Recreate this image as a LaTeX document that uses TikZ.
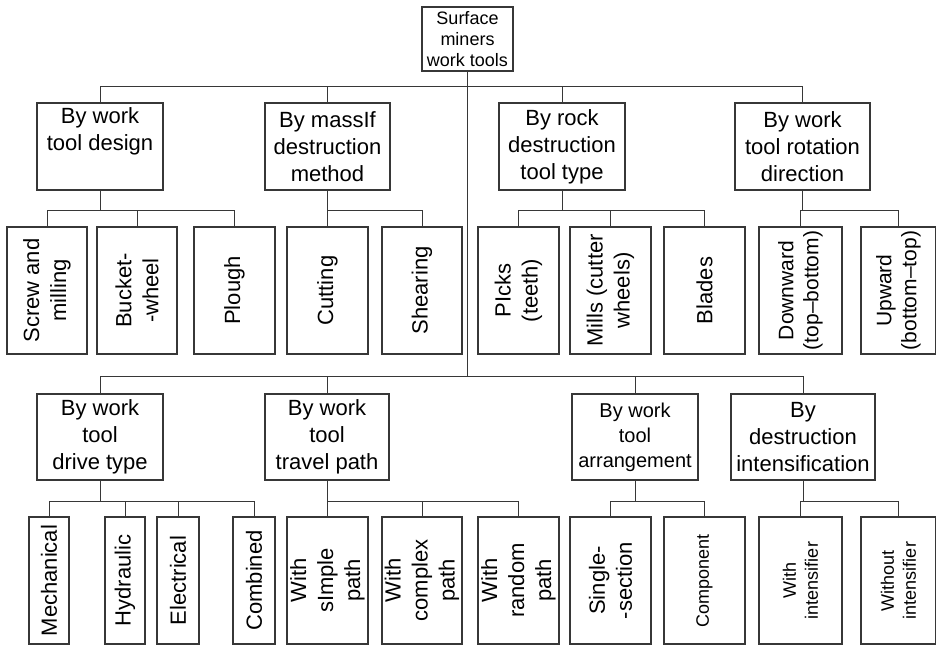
\documentclass[tikz,border=0pt]{standalone}
\usepackage{fontspec}
\setmainfont{Liberation Sans}
\usetikzlibrary{positioning}
\definecolor{linegray}{RGB}{55, 55, 55}

\begin{document}
\begin{tikzpicture}[
    x=1pt, y=-1pt,
    basebox/.style={
        rectangle,
        draw=linegray,
        line width=1.1pt,
        align=center,
        inner sep=1pt
    },
    rootbox/.style={basebox, minimum width=91pt, minimum height=64pt,
        font=\fontsize{18}{21}\selectfont},
    catbox/.style={basebox, minimum height=87pt,
        font=\fontsize{22}{27}\selectfont},
    leafbox/.style={basebox, rotate=90, minimum width=127pt,
        font=\fontsize{22}{27}\selectfont},
    smalltext/.style={font=\fontsize{18}{22}\selectfont},
    linkstyle/.style={draw=linegray, line width=1pt}
]

    \useasboundingbox (0,0) rectangle (936,645);

    % --- Root ---
    \node[rootbox] (root) at (467.5,39) {Surface\\miners\\work tools};

    % --- Row 1: categories ---

    % Nodes
    \node[catbox, minimum width=126pt] (design) at (100,146.5) {
        By work\\tool design\\ \strut
    };
    \node[catbox, minimum width=125pt] (method) at (327.5,146.5) {
        By massIf\\destruction\\method
    };
    \node[catbox, minimum width=126pt] (rocktool) at (562,146.5) {
        By rock\\destruction\\tool type
    };
    \node[catbox, minimum width=135pt] (rotation) at (802.5,146.5) {
        By work\\tool rotation\\direction
    };

    % Leaves
    \node[leafbox, minimum height=80pt] (screw) at (47,290.5) {Screw and\\milling};
    \node[leafbox, minimum height=80pt] (bucket) at (137,290.5) {Bucket-\\-wheel};
    \node[leafbox, minimum height=81pt] (plough) at (234.5,290.5) {Plough};
    \node[leafbox, minimum height=81pt] (cutting) at (327.5,290.5) {Cutting};
    \node[leafbox, minimum height=80pt] (shearing) at (422,290.5) {Shearing};
    \node[leafbox, minimum height=81pt] (picks) at (518.5,290.5) {PIcks\\(teeth)};
    \node[leafbox, minimum height=81pt] (mills) at (610.5,290.5) {Mills (cutter\\wheels)};
    \node[leafbox, minimum height=81pt] (blades) at (704.5,290.5) {Blades};
    \node[leafbox, minimum height=83pt, font=\fontsize{21}{25}\selectfont] (downward) at (800.5,290.5) {Downward\\(top--bottom)};
    \node[leafbox, minimum height=75pt, font=\fontsize{21}{25}\selectfont] (upward) at (898.5,290.5) {Upward\\(bottom--top)};

    % --- Row 2: categories ---

    % Nodes
    \node[catbox, minimum width=126pt, minimum height=86pt] (drive) at (100,437) {
        By work\\tool\\drive type
    };
    \node[catbox, minimum width=124pt, minimum height=86pt] (travel) at (327,437) {
        By work\\tool\\travel path
    };
    \node[catbox, minimum width=126pt, minimum height=86pt, font=\fontsize{20}{25}\selectfont] (arrange) at (635,437) {
        By work\\tool\\arrangement
    };
    \node[catbox, minimum width=144pt, minimum height=86pt] (intensify) at (803,437) {
        By\\destruction\\intensification
    };

    % Leaves
    \node[leafbox, minimum height=40pt] (mech) at (49,580.5) {Mechanical};
    \node[leafbox, minimum height=40pt] (hydr) at (125,580.5) {Hydraulic};
    \node[leafbox, minimum height=42pt] (elec) at (178,580.5) {Electrical};
    \node[leafbox, minimum height=42pt] (comb) at (254,580.5) {Combined};
    \node[leafbox, minimum height=81pt] (simple) at (327.5,580.5) {With\\sImple\\path};
    \node[leafbox, minimum height=80pt] (complex) at (422,580.5) {With\\complex\\path};
    \node[leafbox, minimum height=81pt] (random) at (518.5,580.5) {With\\random\\path};
    \node[leafbox, minimum height=81pt] (single) at (610.5,580.5) {Single-\\-section};
    \node[leafbox, minimum height=81pt, smalltext] (component) at (704.5,580.5) {Component};
    \node[leafbox, minimum height=83pt, smalltext] (withint) at (800.5,580.5) {With\\intensifier};
    \node[leafbox, minimum height=75pt, smalltext] (withoutint) at (898.5,580.5) {Without\\intensifier};

    % Connectors
    \draw[linkstyle] (root.south) -- ++(0,15) -| (design.north);
    \draw[linkstyle] (root.south) -- ++(0,15) -| (method.north);
    \draw[linkstyle] (root.south) -- ++(0,15) -| (rocktool.north);
    \draw[linkstyle] (root.south) -- ++(0,15) -| (rotation.north);
    \draw[linkstyle] (root.south) -- ++(0,305) -| (drive.north);
    \draw[linkstyle] (root.south) -- ++(0,305) -| (travel.north);
    \draw[linkstyle] (root.south) -- ++(0,305) -| (arrange.north);
    \draw[linkstyle] (root.south) -- ++(0,305) -| (intensify.north);

    \draw[linkstyle] (design.south) -- ++(0,20) -| (screw.east);
    \draw[linkstyle] (design.south) -- ++(0,20) -| (bucket.east);
    \draw[linkstyle] (design.south) -- ++(0,20) -| (plough.east);
    \draw[linkstyle] (method.south) -- ++(0,20) -| (cutting.east);
    \draw[linkstyle] (method.south) -- ++(0,20) -| (shearing.east);
    \draw[linkstyle] (rocktool.south) -- ++(0,20) -| (picks.east);
    \draw[linkstyle] (rocktool.south) -- ++(0,20) -| (mills.east);
    \draw[linkstyle] (rocktool.south) -- ++(0,20) -| (blades.east);
    \draw[linkstyle] (rotation.south) -- ++(0,20) -| (downward.east);
    \draw[linkstyle] (rotation.south) -- ++(0,20) -| (upward.east);

    \draw[linkstyle] (drive.south) -- ++(0,21) -| (mech.east);
    \draw[linkstyle] (drive.south) -- ++(0,21) -| (hydr.east);
    \draw[linkstyle] (drive.south) -- ++(0,21) -| (elec.east);
    \draw[linkstyle] (drive.south) -- ++(0,21) -| (comb.east);
    \draw[linkstyle] (travel.south) -- ++(0,21) -| (simple.east);
    \draw[linkstyle] (travel.south) -- ++(0,21) -| (complex.east);
    \draw[linkstyle] (travel.south) -- ++(0,21) -| (random.east);
    \draw[linkstyle] (arrange.south) -- ++(0,21) -| (single.east);
    \draw[linkstyle] (arrange.south) -- ++(0,21) -| (component.east);
    \draw[linkstyle] (intensify.south) -- ++(0,21) -| (withint.east);
    \draw[linkstyle] (intensify.south) -- ++(0,21) -| (withoutint.east);

\end{tikzpicture}
\end{document}
